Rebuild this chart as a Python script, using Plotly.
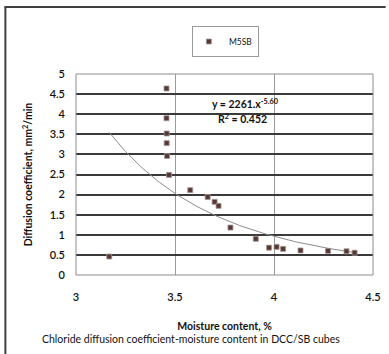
import numpy as np
import plotly.graph_objects as go

# data
moisture = [3.168, 3.457, 3.457, 3.458, 3.458, 3.460, 3.470, 3.577, 3.665, 3.700, 3.720,
            3.780, 3.908, 3.975, 4.013, 4.046, 4.134, 4.273, 4.366, 4.407]
diffusion = [0.46, 4.64, 3.90, 3.52, 3.28, 2.96, 2.49, 2.11, 1.94, 1.82, 1.72,
             1.18, 0.90, 0.68, 0.70, 0.65, 0.61, 0.60, 0.59, 0.555]
series_name = "M5SB"
fit_a, fit_b = 2261.0, -5.60   # power trendline shown on the chart
x_ticks = [3, 3.5, 4, 4.5]
y_ticks = [0, 0.5, 1, 1.5, 2, 2.5, 3, 3.5, 4, 4.5, 5]

xt = np.linspace(min(moisture), max(moisture), 120)
yt = fit_a * xt ** fit_b

FONT = "Lato"
fig = go.Figure()
fig.add_trace(go.Scatter(x=xt, y=yt, mode="lines", line=dict(color="#8c8c8c", width=1),
                         showlegend=False, hoverinfo="skip"))
fig.add_trace(go.Scatter(x=moisture, y=diffusion, mode="markers", name=series_name,
                         marker=dict(symbol="square", size=5, color="#5a3832",
                                     line=dict(color="#a09898", width=0.8))))

W, H = 389, 354
L, R, T, B = 76, 381, 74, 275
pw, ph = R - L, B - T
px = lambda v: (v - L) / pw
py = lambda v: (B - v) / ph

shapes = [
    dict(type="line", xref="paper", yref="paper", x0=px(3.5), x1=px(3.5), y0=py(H + 5), y1=py(7),
         line=dict(color="#404040", width=2)),
    dict(type="line", xref="paper", yref="paper", x0=px(2.5), x1=px(W + 5), y0=py(7), y1=py(7),
         line=dict(color="#404040", width=2)),
    dict(type="rect", xref="paper", yref="paper", x0=0, x1=1, y0=0, y1=1,
         line=dict(color="#8c8c8c", width=1)),
]

fig.update_layout(
    width=W, height=H,
    margin=dict(l=L, r=W - R, t=T, b=H - B),
    paper_bgcolor="white", plot_bgcolor="white",
    font=dict(family=FONT, size=11, color="#111"),
    showlegend=True,
    legend=dict(x=px(195), y=py(26), xanchor="left", yanchor="top",
                bordercolor="#9a9a9a", borderwidth=1, bgcolor="white",
                font=dict(family=FONT, size=8.5, color="#111"), itemwidth=30,
                tracegroupgap=0, indentation=-4),
    xaxis=dict(range=[3, 4.5], tickvals=x_ticks, ticktext=[str(v) for v in x_ticks],
               showgrid=True, gridcolor="#9a9a9a", gridwidth=1, zeroline=False,
               showline=False, ticks="", ticklabelstandoff=14,
               tickfont=dict(family=FONT, size=11, color="#111", weight=600),
               title=dict(text="<b>Moisture content, %</b>", font=dict(family=FONT, size=10.5), standoff=20)),
    yaxis=dict(range=[0, 5], tickvals=y_ticks, ticktext=[("%g" % v) for v in y_ticks],
               showgrid=True, gridcolor="#3a3a3a", gridwidth=1.5, zeroline=False,
               showline=False, ticks="", ticklabelstandoff=10,
               tickfont=dict(family=FONT, size=11, color="#111", weight=600),
               title=dict(text="<b>Diffusion coefficient, mm<sup>2</sup>/min</b>",
                          font=dict(family=FONT, size=10.5), standoff=14)),
    shapes=shapes,
    annotations=[
        dict(xref="paper", yref="paper", x=px(250), y=py(103), xanchor="center", yanchor="middle",
             showarrow=False, text="<b>y = 2261.x<sup>-5.60</sup></b>",
             font=dict(family=FONT, size=10.5, color="#111")),
        dict(xref="paper", yref="paper", x=px(247), y=py(118), xanchor="center", yanchor="middle",
             showarrow=False, text="<b>R<sup>2</sup> = 0.452</b>",
             font=dict(family=FONT, size=10.5, color="#111")),
        dict(xref="paper", yref="paper", x=px(194), y=py(339), xanchor="center", yanchor="middle",
             showarrow=False, text="Chloride diffusion coefficient-moisture content in DCC/SB cubes",
             font=dict(family=FONT, size=10.5, color="#111")),
    ],
)
fig.write_html("out.html")
